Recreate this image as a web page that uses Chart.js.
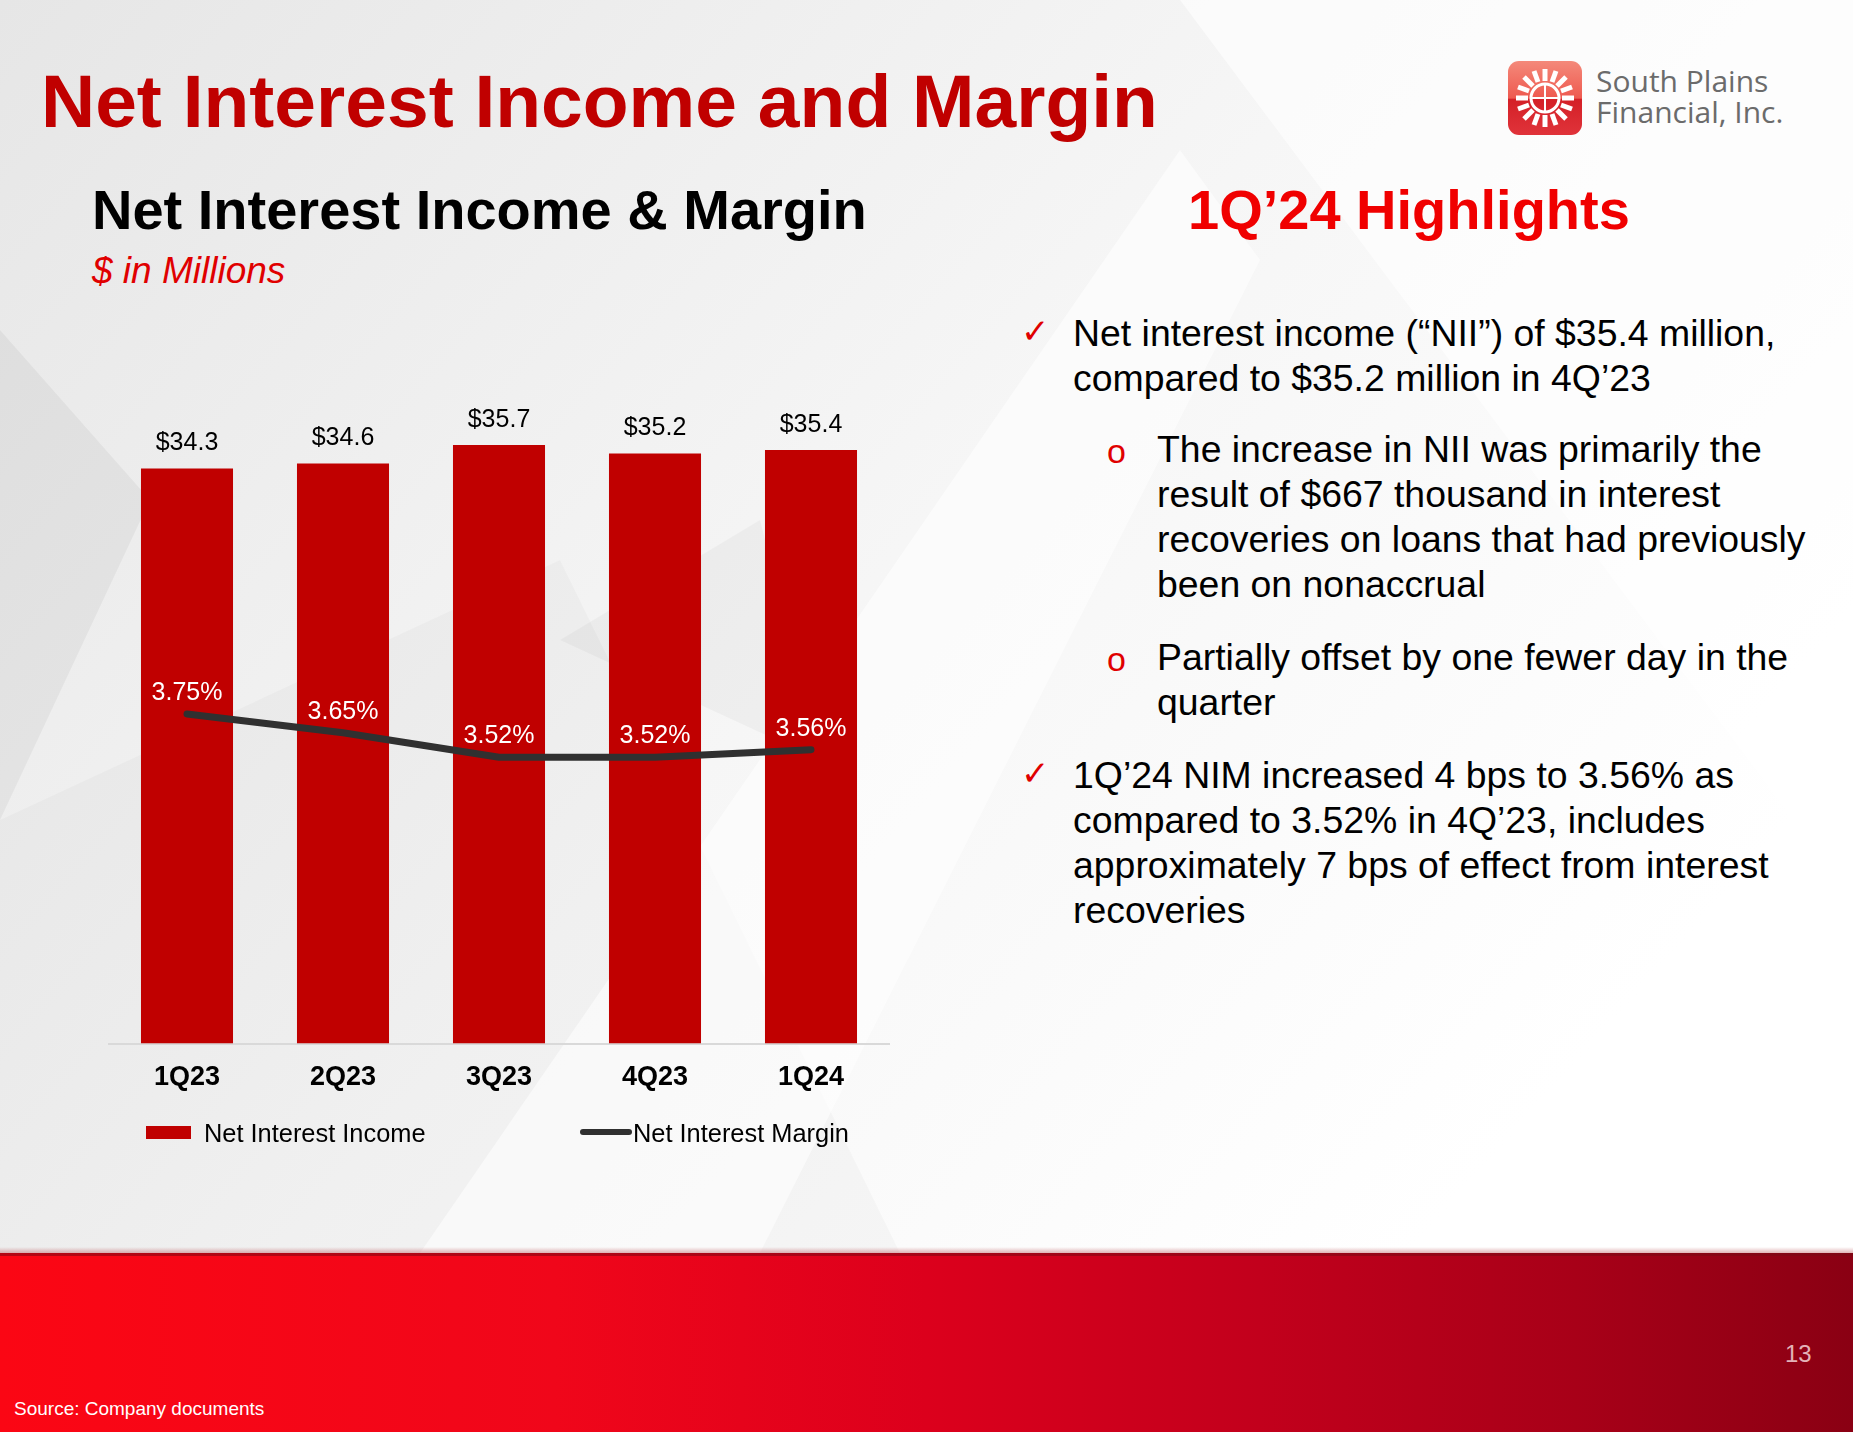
<!DOCTYPE html>
<html>
<head>
<meta charset="utf-8">
<script src="https://cdn.jsdelivr.net/npm/chart.js@4.4.1/dist/chart.umd.min.js"></script>
<style>
  html, body { margin: 0; padding: 0; }
  body { width: 1853px; height: 1432px; position: relative; overflow: hidden; background: #fff;
         font-family: "Liberation Sans", Arial, sans-serif; }
  .abs { position: absolute; white-space: nowrap; line-height: 1; }
  #bg { position: absolute; left: 0; top: 0; }
  #band { position: absolute; left: 0; top: 1253px; width: 1853px; height: 179px;
          background: linear-gradient(90deg, #fb0614 0%, #f0061a 30%, #dc001c 50%, #c2001c 68%, #a80018 85%, #8a0013 100%); }
  #band:before { content: ""; position: absolute; left: 0; top: -6px; width: 100%; height: 6px;
          background: linear-gradient(180deg, rgba(200,120,120,0) 0%, rgba(190,90,95,0.45) 100%); }
  #band:after { content: ""; position: absolute; left: 0; top: 0; width: 100%; height: 3px; background: rgba(120,10,20,0.55); }
  .para { position: absolute; font-size: 37.4px; line-height: 45px; color: #000; white-space: nowrap; }
  .mark { position: absolute; color: #e00000; }
  #chartBox { position: absolute; left: 100px; top: 330px; width: 800px; height: 799px; }
  .leg { position: absolute; font-size: 25.4px; line-height: 1; color: #000; white-space: nowrap; }
</style>
</head>
<body>
<svg id="bg" width="1853" height="1253">
  <defs>
    <linearGradient id="g1" x1="0" y1="0" x2="1" y2="0.6">
      <stop offset="0" stop-color="#e6e6e6"/>
      <stop offset="0.55" stop-color="#f6f6f6"/>
      <stop offset="1" stop-color="#ffffff"/>
    </linearGradient>
  </defs>
  <rect x="0" y="0" width="1853" height="1253" fill="url(#g1)"/>
  <polygon points="0,330 150,500 0,820" fill="#000" opacity="0.045"/>
  <polygon points="0,820 560,560 900,1253 0,1253" fill="#000" opacity="0.025"/>
  <polygon points="420,1253 1180,150 1260,260 760,1253" fill="#fff" opacity="0.55"/>
  <polygon points="560,640 760,520 820,760" fill="#000" opacity="0.03"/>
  <polygon points="1180,0 1853,0 1853,900" fill="#fff" opacity="0.6"/>
</svg>
<div id="band"></div>

<div class="abs" style="left:41px; top:64px; font-size:75px; font-weight:bold; color:#c00000;">Net Interest Income and Margin</div>

<svg class="abs" style="left:1508px; top:61px;" width="74" height="74" viewBox="0 0 74 74">
  <defs>
    <linearGradient id="lg" x1="0" y1="0" x2="0" y2="1">
      <stop offset="0" stop-color="#f4897a"/>
      <stop offset="0.5" stop-color="#ee5a50"/>
      <stop offset="0.52" stop-color="#d42027"/>
      <stop offset="1" stop-color="#e0333a"/>
    </linearGradient>
  </defs>
  <rect x="0" y="0" width="74" height="74" rx="11" fill="url(#lg)"/>
  <g stroke="#fff" stroke-width="5" fill="none">
    <circle cx="37" cy="37" r="14" stroke-width="3"/>
    <line x1="37" y1="8" x2="37" y2="20"/><line x1="37" y1="54" x2="37" y2="66"/>
    <line x1="8" y1="37" x2="20" y2="37"/><line x1="54" y1="37" x2="66" y2="37"/>
    <line x1="16" y1="16" x2="25" y2="25"/><line x1="49" y1="49" x2="58" y2="58"/>
    <line x1="58" y1="16" x2="49" y2="25"/><line x1="25" y1="49" x2="16" y2="58"/>
    <line x1="26" y1="10" x2="30" y2="21"/><line x1="48" y1="10" x2="44" y2="21"/>
    <line x1="26" y1="64" x2="30" y2="53"/><line x1="48" y1="64" x2="44" y2="53"/>
    <line x1="10" y1="26" x2="21" y2="30"/><line x1="10" y1="48" x2="21" y2="44"/>
    <line x1="64" y1="26" x2="53" y2="30"/><line x1="64" y1="48" x2="53" y2="44"/>
  </g>
  <line x1="23" y1="37" x2="51" y2="37" stroke="#fff" stroke-width="2"/>
  <line x1="37" y1="23" x2="37" y2="51" stroke="#fff" stroke-width="2"/>
</svg>
<div class="abs" style="left:1596px; top:66px; font-family:'Open Sans'; font-size:30px; color:#6b6b6b;">South Plains</div>
<div class="abs" style="left:1596px; top:97px; font-family:'Open Sans'; font-size:30px; color:#6b6b6b;">Financial, Inc.</div>

<div class="abs" style="left:92px; top:182px; font-size:56px; font-weight:bold; color:#000;">Net Interest Income &amp; Margin</div>
<div class="abs" style="left:92px; top:252px; font-size:37px; font-style:italic; color:#e00000;">$ in Millions</div>
<div class="abs" style="left:1188px; top:182px; font-size:56px; font-weight:bold; color:#f00000;">1Q’24 Highlights</div>

<div class="mark" style="left:1021px; top:309px; font-size:34px; line-height:45px; font-family:'DejaVu Sans';">✓</div>
<div class="para" style="left:1073px; top:311px;">Net interest income (“NII”) of $35.4 million,<br>compared to $35.2 million in 4Q’23</div>
<div class="mark" style="left:1107px; top:429px; font-size:34px; line-height:45px;">o</div>
<div class="para" style="left:1157px; top:427px;">The increase in NII was primarily the<br>result of $667 thousand in interest<br>recoveries on loans that had previously<br>been on nonaccrual</div>
<div class="mark" style="left:1107px; top:637px; font-size:34px; line-height:45px;">o</div>
<div class="para" style="left:1157px; top:635px;">Partially offset by one fewer day in the<br>quarter</div>
<div class="mark" style="left:1021px; top:751px; font-size:34px; line-height:45px; font-family:'DejaVu Sans';">✓</div>
<div class="para" style="left:1073px; top:753px;">1Q’24 NIM increased 4 bps to 3.56% as<br>compared to 3.52% in 4Q’23, includes<br>approximately 7 bps of effect from interest<br>recoveries</div>

<div id="chartBox"><canvas id="nimChart"></canvas></div>
<div id="legend"></div>

<div class="abs" style="left:14px; top:1399px; font-size:19px; color:#fff;">Source: Company documents</div>
<div class="abs" style="left:1785px; top:1342px; font-size:24px; color:#e3b2b8;">13</div>

<script>
// quarterly data, $ in millions and NIM in %
const quarters = ['1Q23', '2Q23', '3Q23', '4Q23', '1Q24'];
const netInterestIncome = [34.3, 34.6, 35.7, 35.2, 35.4];
const netInterestMargin = [3.75, 3.65, 3.52, 3.52, 3.56];

const barRed = '#c00000';
const lineGray = '#303030';

// value labels above bars and line points
const valueLabels = {
    id: 'valueLabels',
    afterDatasetsDraw(chart) {
        const ctx = chart.ctx;
        ctx.save();
        ctx.textAlign = 'center';
        ctx.textBaseline = 'middle';
        ctx.font = '25px "Liberation Sans", Arial, sans-serif';

        chart.getDatasetMeta(0).data.forEach(function(bar, i) {
            ctx.fillStyle = '#000';
            ctx.fillText('$' + netInterestIncome[i].toFixed(1), bar.x, bar.y - 25);
        });
        chart.getDatasetMeta(1).data.forEach(function(pt, i) {
            ctx.fillStyle = '#fff';
            ctx.fillText(netInterestMargin[i].toFixed(2) + '%', pt.x, pt.y - 21);
        });
        ctx.restore();
    }
};

const ctx = document.getElementById('nimChart').getContext('2d');
const nimChart = new Chart(ctx, {
    type: 'bar',
    data: {
        labels: quarters,
        datasets: [{
            type: 'bar',
            label: 'Net Interest Income',
            data: netInterestIncome,
            yAxisID: 'y',
            backgroundColor: barRed,
            categoryPercentage: 1,
            barPercentage: 0.59,
            order: 1
        }, {
            type: 'line',
            label: 'Net Interest Margin',
            data: netInterestMargin,
            yAxisID: 'y1',
            borderColor: lineGray,
            borderWidth: 7,
            borderCapStyle: 'round',
            borderJoinStyle: 'round',
            pointRadius: 0,
            tension: 0,
            order: 0
        }]
    },
    options: {
        responsive: true,
        maintainAspectRatio: false,
        animation: false,
        layout: { padding: { left: 9, right: 11, top: 43, bottom: 17 } },
        plugins: {
            legend: { display: false },
            tooltip: { enabled: false }
        },
        scales: {
            x: {
                grid: { display: false, drawTicks: false },
                border: { display: true, color: '#d9d9d9', width: 2 },
                ticks: {
                    padding: 18,
                    color: '#000',
                    font: { size: 27, weight: 'bold', family: '"Liberation Sans", Arial, sans-serif' }
                }
            },
            y: { display: false, min: 0, max: 40 },
            y1: { display: false, min: 2.0, max: 5.56 }
        }
    },
    plugins: [valueLabels]
});

// legend built from the datasets, laid out like the slide
const legendPos = { 'Net Interest Income': 146, 'Net Interest Margin': 580 };
const legend = document.getElementById('legend');
nimChart.data.datasets.forEach(function(ds) {
    const x = legendPos[ds.label];
    const sw = document.createElement('div');
    sw.style.position = 'absolute';
    if (ds.type === 'bar') {
        sw.style.cssText += 'left:' + x + 'px; top:1126px; width:45px; height:13px; background:' + ds.backgroundColor + ';';
    } else {
        sw.style.cssText += 'left:' + x + 'px; top:1129px; width:52px; height:6px; border-radius:3px; background:' + ds.borderColor + ';';
    }
    legend.appendChild(sw);
    const t = document.createElement('div');
    t.className = 'leg';
    t.style.left = (ds.type === 'bar' ? x + 58 : x + 53) + 'px';
    t.style.top = '1121px';
    t.textContent = ds.label;
    legend.appendChild(t);
});
</script>
</body>
</html>
